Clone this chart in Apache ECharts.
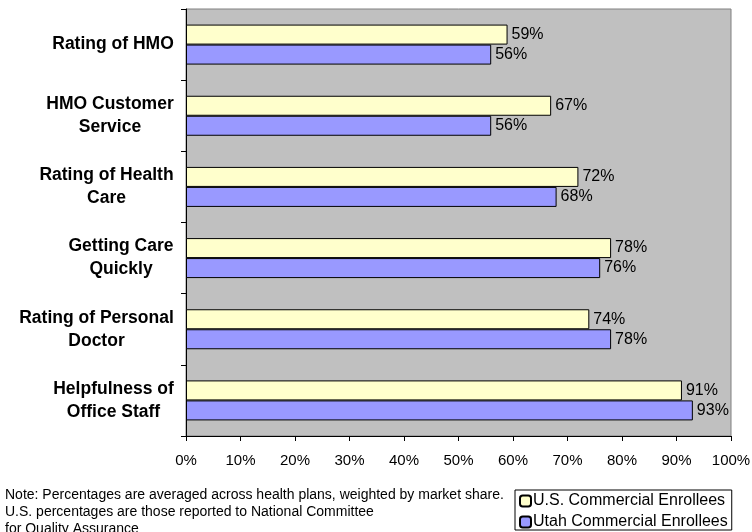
<!DOCTYPE html>
<html>
<head>
<meta charset="utf-8">
<script src="https://cdn.jsdelivr.net/npm/echarts@6/dist/echarts.min.js"></script>
<style>
  html, body { margin: 0; padding: 0; background: #fff; }
  #chart { width: 752px; height: 532px; }
</style>
</head>
<body>
<div id="chart"></div>
<script>
// categories, top to bottom
const categories = [
  "Rating of HMO",
  "HMO Customer\nService",
  "Rating of Health\nCare",
  "Getting Care\nQuickly",
  "Rating of Personal\nDoctor",
  "Helpfulness of\nOffice Staff"
];
const usValues = [59, 67, 72, 78, 74, 91];
const utahValues = [56, 56, 68, 76, 78, 93];
const seriesNames = ["U.S. Commercial Enrollees", "Utah Commercial Enrollees"];
const noteLines = [
  "Note: Percentages are averaged across health plans, weighted by market share.",
  "U.S. percentages are those reported to National Committee",
  "for Quality Assurance"
];

const font = "Arial, 'Liberation Sans', sans-serif";
const catFontSize = 17.5;

// each category label: lines centred inside a block that is right-aligned to the axis
const ctx = document.createElement("canvas").getContext("2d");
ctx.font = "bold " + catFontSize + "px " + font;
const rich = {};
categories.forEach((c, i) => {
  const w = Math.max(...c.split("\n").map((l) => ctx.measureText(l).width));
  rich["c" + i] = {
    width: Math.ceil(w),
    align: "center",
    fontSize: catFontSize,
    fontWeight: "bold",
    fontFamily: font,
    color: "#000",
    lineHeight: 23
  };
});

const barLabel = {
  show: true,
  position: "right",
  distance: 4,
  color: "#000",
  fontFamily: font,
  fontSize: 16,
  formatter: (p) => p.value + "%"
};

const option = {
  animation: false,
  backgroundColor: "#fff",
  grid: {
    left: 186,
    right: 21,
    top: 9,
    bottom: 96,
    outerBoundsMode: "none",
    show: true,
    backgroundColor: "#c0c0c0",
    borderColor: "#808080",
    borderWidth: 1
  },
  legend: {
    orient: "vertical",
    left: 515,
    top: 490,
    data: seriesNames,
    backgroundColor: "#fff",
    borderColor: "#000",
    borderWidth: 1,
    padding: [3, 4, 0, 4],
    itemWidth: 11,
    itemHeight: 11,
    itemGap: 5,
    textStyle: { color: "#000", fontFamily: font, fontSize: 16, padding: [0, 0, 0, -3] }
  },
  xAxis: {
    type: "value",
    min: 0,
    max: 100,
    interval: 10,
    axisLine: { show: true, lineStyle: { color: "#000" } },
    axisTick: { show: true, length: 5, lineStyle: { color: "#000" } },
    splitLine: { show: false },
    axisLabel: {
      color: "#000",
      fontFamily: font,
      fontSize: 15,
      margin: 17,
      formatter: "{value}%"
    }
  },
  yAxis: {
    type: "category",
    inverse: true,
    data: categories,
    axisLine: { show: true, lineStyle: { color: "#000" } },
    axisTick: { show: true, length: 5, lineStyle: { color: "#000" } },
    axisLabel: {
      margin: 12,
      align: "right",
      formatter: (value, index) =>
        value.split("\n").map((l) => "{c" + index + "|" + l + "}").join("\n"),
      rich: rich
    }
  },
  graphic: [
    {
      type: "text",
      left: 5,
      top: 487,
      style: {
        text: noteLines.join("\n"),
        fill: "#000",
        font: "14px " + font,
        lineHeight: 17
      }
    }
  ],
  series: [
    {
      name: seriesNames[0],
      type: "bar",
      barWidth: 20,
      barGap: "0%",
      itemStyle: { color: "#ffffcc", borderColor: "#000", borderWidth: 1 },
      label: barLabel,
      data: usValues
    },
    {
      name: seriesNames[1],
      type: "bar",
      barWidth: 20,
      barGap: "0%",
      itemStyle: { color: "#9999ff", borderColor: "#000", borderWidth: 1 },
      label: barLabel,
      data: utahValues
    }
  ]
};

const myChart = echarts.init(document.getElementById("chart"));
myChart.setOption(option);
</script>
</body>
</html>
